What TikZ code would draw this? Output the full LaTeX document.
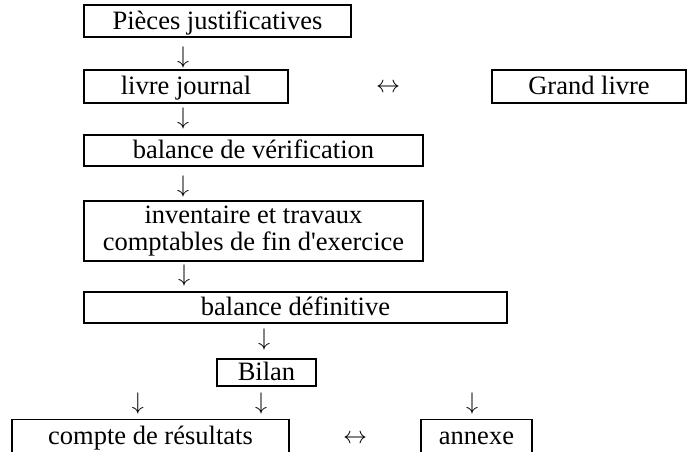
\documentclass[tikz,border=0pt]{standalone}
\usepackage{fontspec}
\setmainfont{Liberation Serif}
\usepackage{tikz}

\begin{document}
\begin{tikzpicture}[x=0.5pt,y=-0.5pt,font=\fontsize{13.25}{13.3}\selectfont,
  box/.style={draw,line width=0.6pt,inner sep=0pt,text height=10pt,text depth=2pt},
  sign/.style={inner sep=0pt,font=\fontsize{12}{12}\selectfont}]
  \useasboundingbox (0,0) rectangle (687,451);
  \clip (0,0) rectangle (687,451);
  % boxes
  \node[box,minimum width=133.5pt,minimum height=16pt] (pieces) at (217.5,21) {Pièces justificatives};
  \node[box,minimum width=102pt,minimum height=16.5pt] (journal) at (186,86.5) {livre journal};
  \node[box,minimum width=97pt,minimum height=16.5pt] (grand) at (589,86.5) {Grand livre};
  \node[box,minimum width=169.5pt,minimum height=15.5pt] (verif) at (253.5,150.5) {balance de vérification};
  \node[draw,line width=0.6pt,inner sep=0pt,align=center,minimum width=169.5pt,minimum height=30pt]
    (invent) at (253.5,231) {inventaire et travaux\\comptables de fin d\textquotesingle exercice};
  \node[box,minimum width=211.5pt,minimum height=15.5pt] (defin) at (295.5,307.5) {balance définitive};
  \node[box,minimum width=49.5pt,minimum height=13.5pt] (bilan) at (266.5,372.5) {Bilan};
  \node[box,minimum width=138.5pt,minimum height=16.5pt] (result) at (150.5,436) {compte de résultats};
  \node[box,minimum width=55.5pt,minimum height=16.5pt] (annexe) at (476.5,436) {annexe};
  % arrow signs
  \node[sign] (down1) at (183,57) {$\downarrow$};
  \node[sign] (down2) at (183,118) {$\downarrow$};
  \node[sign] (down3) at (183,186) {$\downarrow$};
  \node[sign] (down4) at (184,275) {$\downarrow$};
  \node[sign] (down5) at (264,339) {$\downarrow$};
  \node[sign] (down6) at (138,403) {$\downarrow$};
  \node[sign] (down7) at (261,403) {$\downarrow$};
  \node[sign] (down8) at (472,403) {$\downarrow$};
  \node[sign] (both1) at (388,88) {$\leftrightarrow$};
  \node[sign] (both2) at (355,439) {$\leftrightarrow$};
\end{tikzpicture}
\end{document}
